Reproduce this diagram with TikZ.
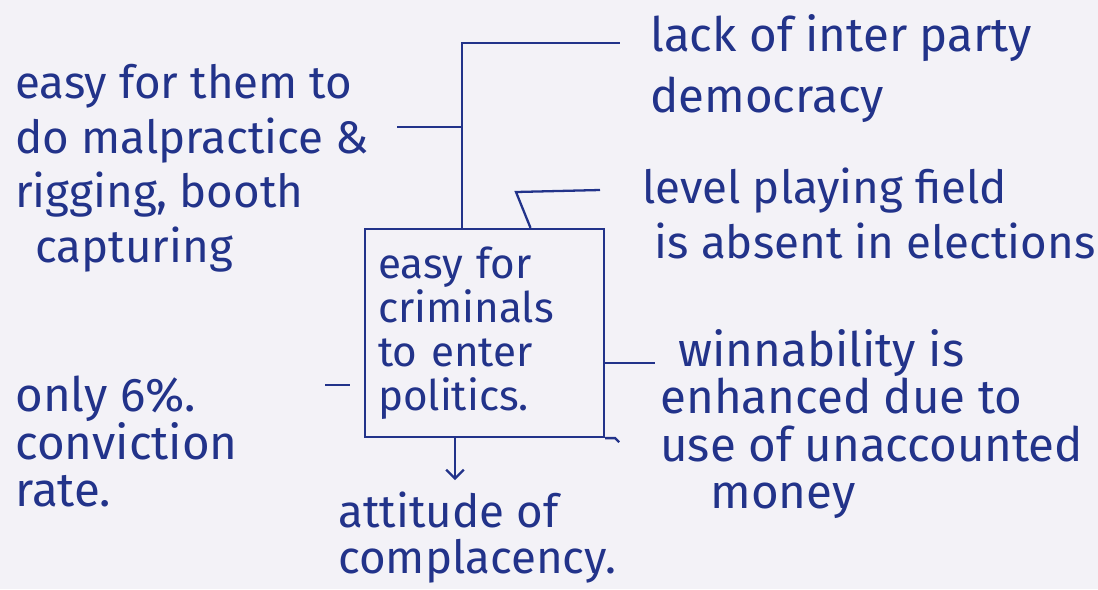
\documentclass[tikz,border=0pt]{standalone}
\usepackage{fontspec}
\setmainfont{Fira Sans}
\usetikzlibrary{positioning, arrows.meta, calc}
\definecolor{inkblue}{HTML}{22338A}
\definecolor{paper}{HTML}{F3F2F7}

\begin{document}
\begin{tikzpicture}[x=0.02cm, y=-0.02cm,
    note/.style={inner sep=0pt, anchor=north west, align=left, text=inkblue,
                 font=\fontsize{27}{30}\selectfont},
    link/.style={draw=inkblue, line width=1.3pt}]
  \fill[paper] (0,0) rectangle (1098,589);
  \useasboundingbox (0,0) rectangle (1098,589);

  % centre box
  \node[draw=inkblue, line width=1.3pt, text=inkblue, align=left,
        text width=4.26cm, inner xsep=0.26cm, minimum height=4.16cm,
        font=\fontsize{24}{25}\selectfont] (crime) at (484.5,333)
       {easy for\\criminals\\to enter\\politics.};

  % texts round it
  \node[note, font=\fontsize{27}{35}\selectfont] (lack) at (650,14)
       {lack of inter party\\democracy};
  \node[note, font=\fontsize{26}{31}\selectfont] (level) at (642,168)
       {level playing field\\\hspace*{0.25cm}is absent in elections};
  \node[note, font=\fontsize{26}{31}\selectfont] (rig) at (15,64)
       {easy for them to\\do malpractice \&\\rigging, booth\\\hspace*{0.4cm}capturing};
  \node[note, font=\fontsize{27}{27}\selectfont] (win) at (660,329)
       {\hspace*{0.36cm}winnability is\\enhanced due to\\use of unaccounted\\\hspace*{1cm}money};
  \node[note, font=\fontsize{27}{27}\selectfont] (conv) at (15,376)
       {only 6\%.\\conviction\\rate.};
  \node[note, font=\fontsize{26}{26}\selectfont] (att) at (338,492)
       {attitude of\\complacency.};

  % connectors
  \coordinate (c1) at (462,43);
  \coordinate (lackend) at (620,43);
  \coordinate (c2) at (397,127);
  \coordinate (c6) at (516,192);
  \coordinate (levelend) at (600,190);
  \coordinate (c3) at (655,363);
  \coordinate (c4) at (325,385);
  \coordinate (c5) at (455,480);

  \draw[link] (crime.north -| c1) -- (c1) -- (lackend);
  \draw[link] (c2 -| c1) -- (c2);
  \draw[link] ($(crime.north)+(46,0)$) -- (c6) -- (levelend);
  \draw[link] (crime.east |- c3) -- (c3);
  \draw[link, shorten <=8pt] (crime.west |- c4) -- (c4);
  \draw[link, -{Straight Barb[length=5pt]}] (crime.south -| c5) -- (c5);
  \draw[link] (crime.south east) -- ++(10,0) -- ++(4,4);
\end{tikzpicture}
\end{document}
